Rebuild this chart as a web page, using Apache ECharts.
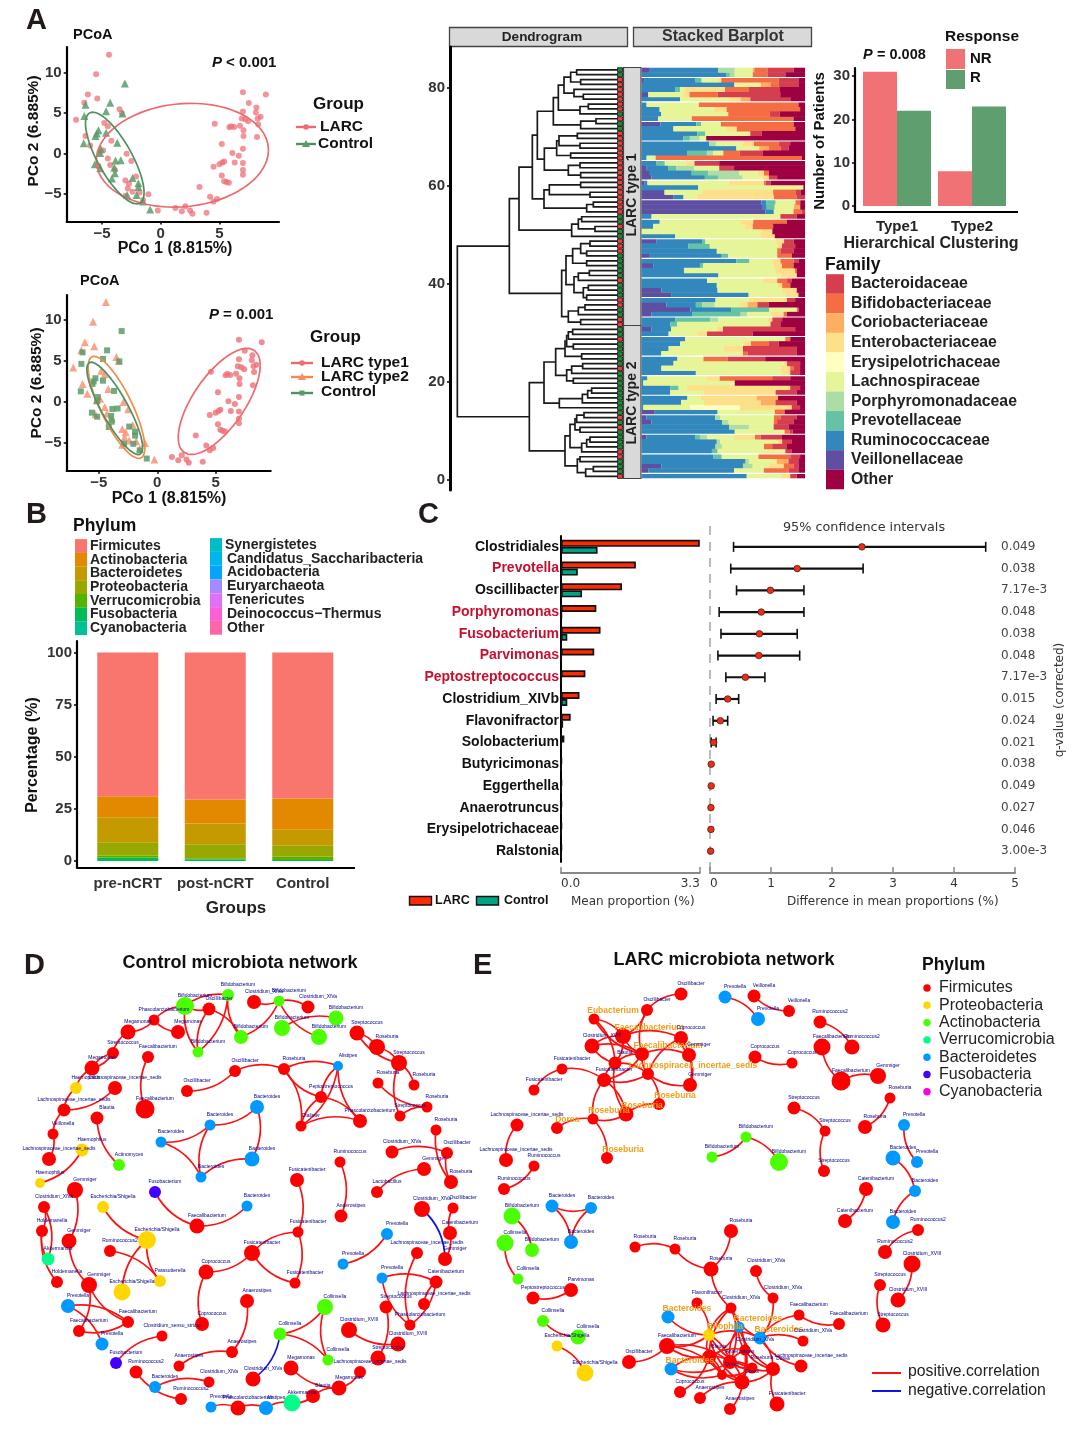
<!DOCTYPE html>
<html><head><meta charset="utf-8">
<style>html,body{margin:0;padding:0;background:#fff}#c{width:1080px;height:1429px}</style>
<script src="https://cdn.jsdelivr.net/npm/echarts@6/dist/echarts.min.js"></script>
</head><body><div id="c"></div>
<script>
// ---------- Panel A: PCoA ----------
const larcPoints=[[-4.4,12.2],[-5.5,9.8],[-6.2,7.3],[-5.4,6.8],[-6.5,6.3],[-7.2,4.2],[-3.5,5.5],[-3.3,5],[-4.8,3.8],[-4.5,3.4],[-6.4,2.2],[-4.2,1.6],[-6,1],[-5.2,0.2],[-2.9,0],[-4.9,0.4],[-4.5,-0.6],[-2.5,-0.9],[-4.3,-1.4],[-5.3,-1.5],[-3.9,-2],[-2.1,-2.8],[-3,-3.3],[-2.7,-3.7],[-2.8,-4.3],[-2.4,-4.7],[-3,-5.2],[-1.8,-4.8],[-1.05,-5],[-1.5,-5.7],[-0.25,-7],[1.25,-6.7],[2.1,-6.5],[1.8,-7.1],[2.5,-7],[2.7,-7.4],[3.9,-7.3],[3.3,-4.1],[4.2,-5.3],[4.5,-5.9],[4.8,-5.6],[4.5,-1.6],[5,-1.3],[5.25,-1.1],[5.4,-0.95],[5.2,-2.7],[5.4,-3.4],[5.6,-3.5],[5.8,-3.6],[5.2,1.2],[6.1,0.1],[6.65,-0.25],[6.3,-1.1],[7,-1.15],[7,-2],[7,-2.6],[7,0.6],[4.6,3.7],[5.85,3.25],[6,3.4],[6.25,3.3],[6.75,3.45],[7.05,2.9],[7.05,2.2],[8.2,2.05],[6.9,4.35],[7,5.2],[7,7.6],[7.5,6.25],[8.15,5.7],[8.1,5.1],[8.95,7.3],[8.5,4.55],[8.25,4.35],[7.45,4],[8.3,3.65],[7.2,4.25]];
const controlPoints=[[-3.05,8.65],[-4.3,6.3],[-6.4,6.05],[-4.65,5.25],[-3.25,4.95],[-6.5,4.65],[-5.3,2.9],[-5.45,2.5],[-5.55,2.2],[-4.65,2.6],[-6.55,1.3],[-3.7,1.35],[-5.1,0.6],[-5.15,0.1],[-3.4,-0.8],[-3.85,-0.85],[-5.6,-1.3],[-3.95,-1.7],[-3.9,-2.4],[-4.15,-3.05],[-2.4,-3],[-1.9,-3.65],[-2.85,-5.1],[-2.05,-5.1],[-1.5,-5.9],[-0.9,-6.9],[-5.15,-1.8],[-1.9,-4.1]];
// Ellipse outlines (the closing point repeats the first)
const a1LarcEllipse=[[-5.6,-1.4],[-5.17,0.86],[-4.03,2.92],[-2.33,4.57],[-0.06,5.51],[2.64,5.88],[5.06,5.6],[7.05,4.57],[8.61,2.72],[9.32,0.45],[8.75,-2.02],[7.33,-3.66],[5.06,-5.51],[2.5,-6.63],[-0.34,-6.87],[-2.76,-5.93],[-4.6,-4.28],[-5.6,-1.4]];
const a1ControlEllipse=[[-6.25,3.54],[-5.88,5.06],[-5.17,4.77],[-4.32,3.74],[-3.04,1.28],[-2.05,-1.4],[-1.42,-4.07],[-1.42,-5.72],[-1.99,-6.34],[-3.04,-5.51],[-4.46,-3.25],[-5.6,-0.78],[-6.16,1.69],[-6.25,3.54]];
const a2Type1Ellipse=[[1.89,-4.23],[2.37,-1.18],[3.66,2.28],[5.37,5.12],[7.09,6.26],[8.51,6.34],[9.03,4.31],[8.23,1.06],[6.8,-2.2],[5.09,-4.84],[3.37,-6.26],[2.29,-5.85],[1.89,-4.23]];
const a2Type2Ellipse=[[-6,4.92],[-5.34,5.73],[-4.06,4.1],[-2.63,0.85],[-1.49,-2.6],[-1.2,-5.45],[-1.63,-6.75],[-2.63,-5.85],[-4.34,-2.6],[-5.63,1.06],[-6,4.92]];
const a2ControlEllipse=[[-6.06,4.1],[-5.49,5.12],[-4.2,3.29],[-2.77,0.04],[-1.71,-3],[-1.4,-5.45],[-1.77,-6.34],[-2.77,-5.24],[-4.49,-1.79],[-5.77,1.46],[-6.06,4.1]];
const pcoXTicks=[-5,0,5], pcoYTicks=[-5,0,5,10];

// ---------- Panel A: stacked barplot, one row per patient, top to bottom ----------
const familyNames=['Bacteroidaceae','Bifidobacteriaceae','Coriobacteriaceae','Enterobacteriaceae','Erysipelotrichaceae','Lachnospiraceae','Porphyromonadaceae','Prevotellaceae','Ruminococcaceae','Veillonellaceae','Other'];
const familyColors=['#D53E4F','#F46D43','#FDAE61','#FEE08B','#FFFFBF','#E6F598','#ABDDA4','#66C2A5','#3288BD','#5E4FA2','#9E0142'];
const stackOrder=['Veillonellaceae','Ruminococcaceae','Prevotellaceae','Porphyromonadaceae','Lachnospiraceae','Erysipelotrichaceae','Enterobacteriaceae','Coriobacteriaceae','Bifidobacteriaceae','Bacteroidaceae','Other'];
const patientRows=[
[5,42,0,10,11,0,0,1,8,16,7],[0,52,2,3,11,0,0,0,9,11,12],[1.5,31,4,0,10,0,2,0,35,12,4],[0,56.5,0,0,16,0,0,6,5,12,4],
[0,20,3,0,3,0,24,0,14,19,15],[4,0,0,0,21,0,4,0,17,38,15],[0,23.5,0,0,30,0,7,6,0,24.5,9],[0,3,0,0,32,0,0,0,61,0,4],
[0,11,0,0,33,0,8,0,45,0,3],[0,12,0,0,41,0,0,0,25.5,6,15.5],[0,10,0,0,20.5,0,0,0,62,0,7],[11.5,22,3,0,12,0,0,0,44.5,0,7],
[0,19.5,0,0,33,0,6,0,36,0,6],[0,34,5,0,27.5,0,0,0,0,7,26.5],[0,25.5,4,6,4,0,0,0,0,0,60.5],[0,41,0,4,16,0,7,0,15,7,9],
[0,58,0,0,14,0,0,6,7,5,10],[0,27.5,12,4,6,0,0,0,10,14,25.5],[0,3,0,0,5.5,0,0,0,89,0,2],[0,9,5,0,13,0,5,0,0,15,52],
[3,13,5,11,15,0,0,0,0,9,43],[5,25.5,10,19,11,0,4,0,3,0,22],[6,32.5,8,15,12,0,4,0,0,5,17],[1.5,2,0,0,49.5,0,21.5,0,1,3,21],
[0,34.5,0,0,64,0,0,0,0,0,1],[14,0,0,0,23.5,0,43,0,14,3,2.5],[19.5,6,0,0,8,0,47,0,14,5,0],[75.5,3,6,0,12.5,0,0,0,3,0,3],
[75.5,3,5,0,12,0,0,4,0,0,3],[75.5,5,0,0,12,0,0,0,5,2,0],[0,6,0,0,78.5,0,0,0,0,10,5],[0,11,0,0,49,0,8,0,20.5,0,11],
[0,7,0,0,56,0,5,0,12.5,0,19.5],[0,0,0,0,73,0,7,0,0,0,20],[0,20.5,0,0,52,0,9,0,0,0,18.5],[9,28.5,2,0,44,0,5,0,0,6,7],
[0,28.5,13,0,41,0,3,0,0,8,6],[0,46,0,0,37,0,0,0,2,8,7],[5,44,4,0,30,0,0,0,9,0,8],[0,58,8,0,14,0,5,0,8,3,4],
[7,28.5,2,0,43,0,5,0,7,0,7],[0,25.5,0,0,55,0,12,0,1,0,5],[0,47,0,0,38,0,10,0,0,0,5],[0,40,0,0,34,0,9,0,6,3,8],
[0,46,0,0,37,0,3,0,5,0,9],[12,34,0,0,39,0,9,0,0,0,5],[18,47.5,0,0,22.5,0,8,0,0,0,4],[0,45,0,0,20,0,23.5,0,0,5,6],
[15,18,4,7.5,15,0,5,6,0,7,22],[30,25,23.5,0,17,0,0,0,1,0,4],[6,24.5,29.5,4,14,0,8,0,2,0,11],[0,20.5,21.5,5,30,0,3,0,0,6,14],
[0,17.5,4,0,57,0,0,0,0,6,15],[6,12,0,0,27.5,0,4,0,0,44,6],[0,16.5,0,0,17.5,0,6,0,0,28,32],[0,26.5,0,0,61,0,0,0,3,0,9],
[0,23.5,0,0,38,0,5,0,11,6,16],[0,16.5,0,0,33.5,0,12,0,0,33,5],[0,12,0,0,50,0,0,0,3,30,5],[0,22,0,0,16,0,0,0,15,23,24.5],
[0,19.5,0,0,67.5,0,2,0,0,8,3],[0,12,0,0,72.5,0,6,0,2,4,3],[0,33,0,0,52.5,0,5,0,0,6,3],[0,3.5,0,0,36,0,8,0,32,11,9],
[0,1,0,0,56,0,0,0,0,0,43],[0,17.5,5,0,5,0,63,0,0,6,3],[0,17.5,0,0,20.5,0,44,0,0,13,5],[0,28,0,0,8,0,34.5,13,0,0,16.5],
[0,24,0,0,14,0,34.5,9,0,13,5],[0,1,0,0,28.5,30,31.5,0,0,5,3],[8,38.5,0,0,35,0,0,0,6,0,12.5],[3,42,0,3,33,0,0,0,4,10,5],
[6,43,0,4,27.5,0,0,0,2,10,7],[0,53,0,12,15,0,0,0,0,9,10],[0,57,0,0,30.5,0,0,0,3,2,7.5],[3,29.5,3,4.5,16,0,13,0,3.5,13,14],
[0,46,0,2,35,0,3,0,0,6,8],[0,45,0,4,25.5,0,0,0,5,9,11],[0,43,3.5,0,41.5,0,0,0,0,4,8],[0,44,5,0,22.5,0,0,0,19.5,6,3],
[0,63,0,2,16,0,1,7,0,6,4],[12,50,0,6,10,0,9,0,6,3,4],[4,52,0,0,18,0,0,0,15,6,4],[0,64,0,0,20.5,0,6,0,0,4,5]];
const whiteSeparatorRows=[1,6,10,14,18,22,26,30,34,38,42,46,50,54,58,62,66,70,74,78,82];

// ---------- Panel A: dendrogram. Node = [height, upper child, lower child]; L = leaf ----------
const L=0;
const heightOf=(zoomX)=>592-zoomX;
const dendrogramTree=[112,
 [268,
  [297,
   [337,
    [352,
     [400,[415,[432,[452,[470,L,L],[482,L,L]],[462,L,[490,L,L]]],[480,[505,L,L],L]],[482,[528,L,L],L]],
     [373,[410,[417,[472,L,L],[480,L,L]],[452,L,L]],[445,[480,L,L],[482,L,L]]]],
    [372,[388,[482,L,L],[510,L,L]],[500,[520,L,L],L]]],
   [455,[475,[485,L,L],[525,L,L]],L]],
  [425,
   [438,[458,[482,[510,L,L],[500,L,L]],[500,L,L]],[462,[475,[508,L,L],L],[490,[505,L,L],[500,L,L]]]],
   [445,[475,[495,L,L],L],[482,L,L]]]],
 [328,
  [372,
   [407,[435,[440,[445,[458,L,L],L],[460,L,L]],[485,L,L]],[440,[455,[488,L,L],L],[460,L,L]]],
   [418,[487,[503,[515,L,L],L],L],L]],
  [435,
   [450,[465,[470,[492,L,L],L],[480,L,L]],[485,[500,[510,L,L],L],L]],
   [472,[480,L,L],[497,[520,L,L],L]]]]];
const leafGroups='GGRRRRRRRGRGG'+'RRRRRRRRRRRRRRRRR'+'GGRGGRRRGGGGGRGGGRRGGRR'+'GGRGGGGGRGGGGGGGGGRGRGGGGRRGGGR';

// ---------- Panel A: response bars ----------
const responseCategories=['Type1','Type2'];
const responseNR=[31,8], responseR=[22,23];

// ---------- Panel B ----------
const phylumLegendLeft=['Firmicutes','Actinobacteria','Bacteroidetes','Proteobacteria','Verrucomicrobia','Fusobacteria','Cyanobacteria'];
const phylumLegendRight=['Synergistetes','Candidatus_Saccharibacteria','Acidobacteria','Euryarchaeota','Tenericutes','Deinococcus\u2212Thermus','Other'];
const phylumColorsLeft=['#F8766D','#E38900','#C49A00','#99A800','#53B400','#00BC56','#00C094'];
const phylumColorsRight=['#00BFC4','#00B6EB','#06A4FF','#A58AFF','#DF70F8','#FB61D7','#FF66A8'];
const groupNames=['pre-nCRT','post-nCRT','Control'];
const firmicutes=[69,70.5,70], actinobacteria=[10,11.5,15], bacteroidetes=[12,10,7.7], proteobacteria=[6.5,6.7,5.3], verrucomicrobia=[1,0.5,1.5], fusobacteria=[1.5,0.8,0.5];

// ---------- Panel C ----------
const genera=['Clostridiales','Prevotella','Oscillibacter','Porphyromonas','Fusobacterium','Parvimonas','Peptostreptococcus','Clostridium_XIVb','Flavonifractor','Solobacterium','Butyricimonas','Eggerthella','Anaerotruncus','Erysipelotrichaceae','Ralstonia'];
const redGenera=['Prevotella','Porphyromonas','Fusobacterium','Parvimonas','Peptostreptococcus'];
const larcMean=[3.3,1.78,1.45,0.84,0.94,0.79,0.58,0.44,0.23,0.08,0.02,0.02,0.02,0.02,0.02];
const controlMean=[0.87,0.4,0.5,0.02,0.15,0.01,0.01,0.15,0.05,0.01,0,0,0,0,0];
const diffLow=[0.386,0.34,0.435,0.15,0.18,0.13,0.26,0.1,0.05,0.02,0,0,0,0,0];
const diffMean=[2.49,1.43,0.99,0.84,0.81,0.8,0.58,0.29,0.17,0.06,0.02,0.02,0.015,0.015,0.01];
const diffHigh=[4.52,2.51,1.54,1.54,1.43,1.47,0.9,0.47,0.29,0.1,0.04,0.04,0.03,0.03,0.02];
const qValues=['0.049','0.038','7.17e-3','0.048','0.038','0.048','7.17e-3','0.015','0.024','0.021','0.038','0.049','0.027','0.046','3.00e-3'];

// ---------- Panels D and E: networks. Node = [genus, phylum, layout x, layout y, weight, highlighted] ----------
const phylumDot={F:'#FF0000',P:'#FFD700',A:'#4CFF00',V:'#00FF88',B:'#0099FF',U:'#4400FF',C:'#FF00DD'};
const LI='Lachnospiraceae_incertae_sedis', CX='Clostridium_XlVa', ES='Escherichia/Shigella', FP='Faecalibacterium', BI='Bifidobacterium', BA='Bacteroides', PH='Phascolarctobacterium', FC='Fusicatenibacter', CV='Clostridium_XVIII', RU='Ruminococcus2';
const controlNodes=[[BI,'A',185,1006,18],[BI,'A',228,995,12],['Oscillibacter','F',209,1009,13],[PH,'F',154,1020,11],['Megamonas','F',128,1032,15],['Megamonas','F',178,1032,14],[BI,'A',198,1052,11],[BI,'A',241,1037,14],['Streptococcus','F',113,1053,12],[FP,'F',148,1057,12],
['Megamonas','F',92,1068,15],['Oscillibacter','F',235,1071,12],['Haemophilus','P',76,1088,12],[LI,'F',115,1088,14],['Oscillibacter','F',187,1091,12],[LI,'F',64,1110,13],[FP,'F',145,1109,19],['Blautia','F',97,1118,13],['Veillonella','F',53,1134,11],[BA,'B',210,1125,11],
[BA,'B',161,1142,11],['Haemophilus','P',82,1150,13],[LI,'F',49,1159,14],['Actinomyces','A',119,1165,12],[BA,'B',201,1177,11],['Haemophilus','P',40,1183,10],['Gemmiger','F',75,1190,16],['Fusobacterium','U',155,1192,12],[CX,'F',254,1002,14],[BI,'A',279,1001,11],
[CX,'F',308,1007,13],[BI,'A',336,1018,15],[BI,'A',282,1028,16],[BI,'A',319,1037,16],['Streptococcus','F',357,1033,15],['Roseburia','F',377,1047,16],['Streptococcus','F',399,1063,16],['Alistipes','B',338,1066,10],['Roseburia','F',284,1069,12],['Roseburia','F',378,1083,11],
['Roseburia','F',414,1085,11],['Peptostreptococcus','F',321,1097,12],[BA,'B',257,1107,14],['Roseburia','F',427,1107,11],['Streptococcus','F',400,1116,11],[PH,'F',360,1121,14],['Dialister','F',301,1126,11],['Roseburia','F',436,1130,11],[CX,'F',392,1152,13],['Oscillibacter','F',447,1153,12],
[BA,'B',252,1159,15],['Ruminococcus','F',340,1162,11],['Gemmiger','F',424,1169,14],[FC,'F',297,1180,14],['Roseburia','F',451,1182,14],['Lactobacillus','F',377,1192,12],[CX,'F',44,1207,12],[ES,'P',103,1207,12],[FP,'F',197,1226,15],['Holdemanella','F',42,1231,12],
['Gemmiger','F',69,1241,15],[ES,'P',147,1240,18],[RU,'F',110,1251,12],['Akkermansia','V',48,1259,13],['Coprococcus','F',206,1272,15],['Holdemanella','F',57,1282,12],['Parasutterella','P',160,1281,12],['Gemmiger','F',89,1285,16],[ES,'P',122,1292,17],['Prevotella','B',68,1306,14],
[FP,'F',128,1322,12],[FP,'F',79,1331,12],['Coprococcus','F',202,1324,14],['Clostridium_sensu_stricto','F',162,1336,11],['Prevotella','B',102,1344,13],['Anaerostipes','F',232,1352,12],['Fusobacterium','U',116,1363,12],['Anaerostipes','F',179,1366,11],[RU,'F',136,1372,13],[CX,'F',209,1382,11],
[BA,'B',155,1387,12],[RU,'F',181,1399,12],['Prevotella','B',211,1407,11],[BA,'B',247,1206,11],['Anaerostipes','F',341,1216,13],[CX,'F',422,1209,16],['Oscillibacter','F',453,1208,11],['Catenibacterium','F',450,1233,14],['Prevotella','B',387,1234,12],[FC,'F',298,1232,11],
[FC,'F',252,1253,16],[LI,'F',417,1253,12],['Gemmiger','F',445,1259,14],['Prevotella','B',343,1264,11],['Prevotella','B',382,1278,11],['Catenibacterium','F',436,1282,13],[FC,'F',295,1283,11],[LI,'F',424,1304,12],['Collinsella','A',325,1307,16],['Anaerostipes','F',247,1301,14],
['Streptococcus','F',386,1307,13],[PH,'F',410,1325,11],[CV,'F',349,1330,16],['Collinsella','A',280,1334,13],[CV,'F',398,1344,15],['Streptococcus','F',378,1358,15],['Collinsella','A',328,1360,11],['Megamonas','F',291,1368,15],[LI,'F',360,1372,12],[CX,'F',253,1379,15],
['Megamonas','F',339,1388,15],['Blautia','F',313,1396,14],['Akkermansia','V',292,1403,17],['Alistipes','B',266,1408,14],[PH,'F',238,1408,15]];
const controlPositive=[[0,2],[0,1],[0,6],[1,6],[1,7],[2,7],[2,6],[3,0],[3,5],[3,4],[4,8],[8,10],[10,12],[10,8],[12,15],[13,15],[15,18],[18,22],[9,16],[11,14],[17,23],[19,20],[19,24],[20,24],[19,42],[24,50],[50,42],[21,25],[28,29],[29,30],[29,33],[32,31],[7,29],[34,35],[34,36],[35,36],[36,44],[36,40],[39,43],[44,43],[38,11],[38,37],[38,41],[38,46],[37,41],[37,46],[37,45],[41,45],[41,46],[46,45],[47,54],[48,49],[49,54],[51,84],[52,55],[53,89],[89,90],[89,96],[90,96],[90,64],[64,72],[58,27],[58,83],[56,59],[59,63],[56,63],[59,65],[26,60],[60,67],[61,57],[61,68],[62,66],[61,66],[67,71],[67,70],[69,70],[71,70],[69,74],[73,76],[77,75],[78,81],[80,79],[75,99],[82,114],[113,114],[113,112],[112,111],[111,110],[110,108],[110,107],[103,98],[103,106],[98,106],[100,105],[102,104],[87,92],[91,101],[94,95],[94,101],[95,101],[95,97],[88,93],[86,87]];
const controlNegative=[[103,109],[85,92]];
const larcNodes=[['Oscillibacter','F',681,994,13],['Oscillibacter','F',647,1010,12],['Eubacterium','F',594,1019,11,1],[FP,'F',623,1036,16,1],[CV,'F',592,1046,15],['Coprococcus','F',681,1038,14],[FP,'F',642,1054,14,1],['Gemmiger','F',689,1055,14],['Blautia','F',615,1063,13],[FC,'F',562,1069,11],
['Lachnospiracea_incertae_sedis','F',648,1074,12,1],[FC,'F',604,1080,14],['Gemmiger','F',690,1085,14],[FC,'F',534,1090,11],['Roseburia','F',659,1104,12,1],['Roseburia','F',626,1114,15,1],['Roseburia','F',593,1119,11,1],[LI,'F',517,1125,13],['Dorea','F',557,1128,12,1],[LI,'F',506,1160,14],
['Roseburia','F',607,1158,12,1],['Ruminococcus','F',534,1166,11],['Ruminococcus','F',504,1189,12],[BI,'A',746,1137,11],[BI,'A',712,1157,11],['Prevotella','B',725,997,13],['Veillonella','F',754,996,13],['Prevotella','B',758,1019,14],['Veillonella','F',789,1011,12],[RU,'F',820,1022,13],
[FP,'F',822,1047,17],[RU,'F',852,1047,15],['Coprococcus','F',755,1057,13],['Coprococcus','F',792,1063,11],[FP,'F',841,1081,19],['Gemmiger','F',878,1076,16],['Streptococcus','F',794,1108,13],['Roseburia','F',890,1098,11],['Roseburia','F',865,1127,14],['Prevotella','B',904,1125,12],
['Streptococcus','F',825,1131,11],[BA,'B',893,1158,15],['Prevotella','B',917,1162,12],[BI,'A',779,1162,18],['Streptococcus','F',824,1171,12],['Catenibacterium','F',866,1189,14],[BA,'B',915,1191,12],['Catenibacterium','F',845,1221,14],[BA,'B',893,1222,14],[RU,'F',918,1230,12],
[RU,'F',885,1252,14],[CV,'F',912,1264,17],['Streptococcus','F',880,1285,12],[CV,'F',898,1300,15],['Streptococcus','F',883,1325,15],[BA,'B',552,1206,13],[BA,'B',591,1208,12],[BI,'A',512,1216,17],[BA,'B',571,1242,14],['Collinsella','A',505,1243,17],
[BI,'A',532,1250,14],['Roseburia','F',635,1247,11],['Roseburia','F',675,1249,11],['Roseburia','F',731,1231,14],['Roseburia','F',711,1269,15],['Collinsella','A',518,1279,11],['Parvimonas','F',571,1290,14],['Peptostreptococcus','F',533,1298,13],['Flavonifractor','F',697,1303,11],[CX,'F',731,1308,11],
[BA,'B',668,1317,13,1],['Collinsella','A',543,1321,12],[BA,'B',739,1327,11,1],['Collinsella','A',578,1337,15],['Bilophila','P',709,1335,12,1],[ES,'P',557,1346,11],[FP,'F',667,1346,16],['Oscillibacter','F',629,1362,14],[ES,'P',585,1373,17],[BA,'B',671,1369,13,1],
['Blautia','F',709,1357,14],['Anaerostipes','F',730,1362,14],['Dorea','F',742,1382,15],['Coprococcus','F',680,1392,12],['Anaerostipes','F',700,1398,12],['Anaerostipes','F',730,1409,12],[CX,'F',756,1271,12],[CX,'F',773,1298,11],[FP,'F',799,1315,11],[FP,'F',839,1324,12],
[BA,'B',760,1338,13,1],[CX,'F',803,1341,11],[LI,'F',801,1366,13],['Dorea','F',773,1369,14],[FC,'F',777,1404,15],[CX,'F',745,1350,11],['Dorea','F',722,1375,10],['Roseburia','F',752,1368,11]];
const larcPositive=[[0,1],[1,3],[1,6],[2,3],[2,6],[2,8],[3,4],[3,8],[3,6],[3,5],[4,8],[4,6],[5,10],[5,12],[5,7],[6,7],[6,8],[6,11],[6,10],[7,12],[8,11],[8,10],[8,15],[9,11],[9,13],[10,11],[10,12],[10,14],[11,16],[11,15],[14,15],[15,16],[16,18],[16,20],[17,19],[21,22],[24,23],[25,27],[26,28],[29,31],[30,34],[34,35],[32,33],[36,40],[40,44],[37,38],[39,42],[41,46],[46,48],[45,47],[49,50],[51,53],[52,54],[23,43],[55,56],[55,58],[56,58],[57,60],[59,65],[66,67],[71,73],[75,78],[77,76],[61,62],[62,64],[63,64],[64,69],[68,74],[70,74],[74,76],[74,80],[74,81],[74,82],[74,90],[76,80],[76,81],[69,74],[69,81],[69,80],[69,82],[69,90],[72,80],[72,81],[72,82],[72,93],[79,80],[79,81],[80,81],[80,82],[81,82],[82,93],[80,83],[82,84],[82,85],[90,87],[90,88],[88,89],[90,91],[90,92],[90,93],[93,94],[87,86],[95,80],[95,82],[95,93],[95,72],[96,80],[96,82],[96,76],[97,74],[97,93],[97,81],[95,96],[97,96],[79,96],[81,97]];
const phylumKey=[['Firmicutes','F'],['Proteobacteria','P'],['Actinobacteria','A'],['Verrucomicrobia','V'],['Bacteroidetes','B'],['Fusobacteria','U'],['Cyanobacteria','C']];

// ================= build =================
const FF="'Liberation Sans',Arial,sans-serif", DJ="'DejaVu Sans',sans-serif";
const minus=v=>String(v).replace('-','\u2212');
const txt=(text,x,y,o={})=>({type:'text',x,y,rotation:o.rot||0,silent:true,style:{text,fontFamily:o.ff||FF,fontSize:o.s||15,fontWeight:o.w||'bold',fontStyle:o.i?'italic':'normal',fill:o.c||'#111',align:o.a||'left',verticalAlign:'middle'}});
const rect=(x,y,w,h,fill,o={})=>({type:'rect',silent:true,shape:{x,y,width:w,height:h},style:{fill,stroke:o.stroke||null,lineWidth:o.lw||0}});
const seg=(x1,y1,x2,y2,c,w,dash)=>({type:'line',silent:true,shape:{x1,y1,x2,y2},style:{stroke:c,lineWidth:w,lineDash:dash||null}});
const dot=(x,y,r,c)=>({type:'circle',silent:true,shape:{cx:x,cy:y,r},style:{fill:c}});
// Like stat_ellipse: an ellipse from the mean and covariance of the outline points.
const fitEllipse=raw=>{const p=raw.slice(0,-1),n=p.length,mx=p.reduce((a,q)=>a+q[0],0)/n,my=p.reduce((a,q)=>a+q[1],0)/n;
  let sxx=0,sxy=0,syy=0;p.forEach(q=>{sxx+=(q[0]-mx)**2;sxy+=(q[0]-mx)*(q[1]-my);syy+=(q[1]-my)**2;});sxx/=n;sxy/=n;syy/=n;
  const a=Math.sqrt(2*sxx),b=2*sxy/a,c=Math.sqrt(Math.max(2*syy-b*b,0));const out=[];
  for(let i=0;i<=72;i++){const t=i/72*2*Math.PI,u=Math.cos(t),v=Math.sin(t);out.push([mx+a*u,my+b*u+c*v]);}return out;};

const valAxis=(i,min,max,ticks,extra={})=>Object.assign({type:'value',gridIndex:i,min,max,
  axisLine:{show:true,onZero:false,lineStyle:{color:'#000',width:2.2}},
  axisTick:{show:true,customValues:ticks,length:3,lineStyle:{color:'#000',width:1.5}},
  axisLabel:{show:true,customValues:ticks,fontFamily:FF,fontWeight:'bold',fontSize:15,color:'#333',margin:5,formatter:minus},
  splitLine:{show:false}},extra);

const grids=[],xAxes=[],yAxes=[],series=[];
grids.push({left:66.7,top:47,width:212.3,height:174.6});
xAxes.push(valAxis(0,-8,10.07,pcoXTicks));
yAxes.push(valAxis(0,-8.38,13.17,pcoYTicks));
const sc=(i,data,sym,size,color,op)=>({type:'scatter',xAxisIndex:i,yAxisIndex:i,data,symbol:sym,symbolSize:size,itemStyle:{color,opacity:op},silent:true});
const el=(i,data,color)=>({type:'line',xAxisIndex:i,yAxisIndex:i,data:fitEllipse(data),symbol:'none',lineStyle:{color,width:1.7},silent:true});
series.push(sc(0,larcPoints,'circle',6,'#EF6F78',.75),sc(0,controlPoints,'triangle',8,'#5B9C6A',.85),el(0,a1LarcEllipse,'#EC6A6E'),el(0,a1ControlEllipse,'#4E9160'));
const larcType1=larcPoints.filter(p=>p[0]>0.5), larcType2=larcPoints.filter(p=>p[0]<=0.5);
grids.push({left:66.7,top:295,width:204,height:175.7});
xAxes.push(valAxis(1,-7.76,9.72,pcoXTicks));
yAxes.push(valAxis(1,-8.38,13.05,pcoYTicks));
series.push(sc(1,larcType1,'circle',6,'#EF6F78',.8),sc(1,larcType2,'triangle',8,'#F98C6E',.8),sc(1,controlPoints,'rect',6,'#5B9C6A',.85),el(1,a2Type1Ellipse,'#EC6A6E'),el(1,a2Type2Ellipse,'#F58A4A'),el(1,a2ControlEllipse,'#4E9160'));
grids.push({left:450,top:47,width:172,height:443});
xAxes.push({type:'value',gridIndex:2,show:false,inverse:true,min:-14,max:502});
yAxes.push(valAxis(2,-2.04,88.4,[0,20,40,60,80],{position:'left',axisLine:{show:true,onZero:false,lineStyle:{color:'#000',width:3}}}));
let leafCounter=0; const dendroSegs=[]; const leafPts=[];
function walk(node){
  if(!Array.isArray(node)){leafCounter++;const y=84.75-leafCounter;leafPts.push({value:[-8,y],itemStyle:{color:leafGroups[leafCounter-1]==='R'?'#F23C3C':'#1F8A36'}});return {h:0,y};}
  const a=walk(node[1]),b=walk(node[2]),h=heightOf(node[0]);
  dendroSegs.push([a.h,a.y,h,b.y,b.h]);
  return {h,y:(a.y+b.y)/2};
}
walk(dendrogramTree);
series.push({type:'custom',xAxisIndex:2,yAxisIndex:2,data:dendroSegs,encode:{x:[0,2,4],y:[1,3]},silent:true,clip:false,
 renderItem:(p,api)=>{const v=i=>api.value(i);return {type:'polyline',shape:{points:[api.coord([v(0),v(1)]),api.coord([v(2),v(1)]),api.coord([v(2),v(3)]),api.coord([v(4),v(3)])]},style:{stroke:'#1a1a1a',fill:null,lineWidth:1.7}};}});
series.push({type:'scatter',xAxisIndex:2,yAxisIndex:2,z:6,data:leafPts,symbol:'rect',symbolSize:[5,4.1],silent:true,itemStyle:{borderColor:'#111',borderWidth:.8,opacity:1}});
grids.push({left:641.7,top:67.7,width:163.3,height:410.6});
xAxes.push({type:'value',gridIndex:3,show:false,min:0,max:100});
yAxes.push({type:'category',gridIndex:3,show:false,inverse:true,data:patientRows.map((r,i)=>'P'+(i+1))});
const rowTotals=patientRows.map(r=>r.reduce((a,b)=>a+b,0));
stackOrder.forEach((name,j)=>series.push({type:'bar',name,xAxisIndex:3,yAxisIndex:3,stack:'f',barWidth:5.4,silent:true,
  itemStyle:{color:familyColors[familyNames.indexOf(name)]},data:patientRows.map((r,i)=>r[j]/rowTotals[i]*100)}));
series.push({type:'custom',xAxisIndex:3,yAxisIndex:3,silent:true,z:5,data:whiteSeparatorRows.map(r=>[0,r]),encode:{x:0,y:1},
 renderItem:(p,api)=>{const c=api.coord([0,api.value(1)]),e=api.coord([100,api.value(1)]),h=api.size([0,1])[1];return {type:'line',shape:{x1:c[0],y1:c[1]+h/2,x2:e[0],y2:c[1]+h/2},style:{stroke:'#fff',lineWidth:1.1}};}});
grids.push({left:859.5,top:68,width:150,height:144});
xAxes.push({type:'category',gridIndex:4,data:responseCategories,axisLine:{show:false},axisTick:{show:false},axisLabel:{interval:0,fontFamily:FF,fontWeight:'bold',fontSize:15,color:'#222',margin:7}});
yAxes.push(valAxis(4,-1.39,31.87,[0,10,20,30],{offset:4.5}));
series.push({type:'bar',xAxisIndex:4,yAxisIndex:4,data:responseNR,barWidth:34,barGap:0,itemStyle:{color:'#F07274'},silent:true},{type:'bar',xAxisIndex:4,yAxisIndex:4,data:responseR,barWidth:34,itemStyle:{color:'#5F9E6E'},silent:true});
grids.push({left:84,top:641,width:262.5,height:227});
xAxes.push({type:'category',gridIndex:5,data:groupNames,axisLine:{show:false},axisTick:{show:false},axisLabel:{interval:0,fontFamily:FF,fontWeight:'bold',fontSize:15,color:'#333',margin:8}});
yAxes.push(valAxis(5,-3.36,105.5,[0,25,50,75,100],{offset:7}));
[[fusobacteria,'#00BC56'],[verrucomicrobia,'#53B400'],[proteobacteria,'#99A800'],[bacteroidetes,'#C49A00'],[actinobacteria,'#E38900'],[firmicutes,'#F8766D']].forEach(([d,c])=>series.push({type:'bar',xAxisIndex:5,yAxisIndex:5,stack:'p',data:d,barWidth:61,itemStyle:{color:c},silent:true}));
const grayAxis=(i,min,max,ticks,fmt,alignMax)=>({type:'value',gridIndex:i,min,max,offset:11,position:'bottom',
  axisLine:{show:true,onZero:false,lineStyle:{color:'#888',width:2}},axisTick:{show:true,inside:true,customValues:ticks,length:6,lineStyle:{color:'#888',width:1.5}},
  axisLabel:{show:true,customValues:ticks,alignMinLabel:'left',alignMaxLabel:alignMax,fontFamily:DJ,fontSize:12,color:'#333',margin:5,formatter:fmt},splitLine:{show:false}});
grids.push({left:561,top:536,width:138.8,height:326});
xAxes.push(grayAxis(6,0,3.3,[0,3.3],v=>v.toFixed(1),'right'));
yAxes.push({type:'category',gridIndex:6,inverse:true,data:genera,axisLine:{show:true,lineStyle:{color:'#000',width:2}},axisTick:{show:false},
  axisLabel:{interval:0,fontFamily:FF,fontWeight:'bold',fontSize:14,margin:2,color:v=>redGenera.includes(v)?'#C8102E':'#111'}});
series.push({type:'bar',xAxisIndex:6,yAxisIndex:6,data:larcMean,barWidth:7,barGap:'0%',silent:true,itemStyle:{color:'#FF2A00',borderColor:'#111',borderWidth:1.7}},
 {type:'bar',xAxisIndex:6,yAxisIndex:6,data:controlMean,barWidth:7,silent:true,itemStyle:{color:'#00A383',borderColor:'#111',borderWidth:1.7}});
grids.push({left:710,top:536,width:305,height:326});
xAxes.push(grayAxis(7,0,5,[0,1,2,3,4,5],v=>v,'center'));
yAxes.push({type:'category',gridIndex:7,inverse:true,position:'right',offset:-14,data:qValues,axisLine:{show:false},axisTick:{show:false},
  axisLabel:{interval:0,fontFamily:DJ,fontSize:12,color:'#444',margin:0,align:'left'}});
series.push({type:'custom',xAxisIndex:7,yAxisIndex:7,silent:true,clip:false,data:genera.map((g,i)=>[diffLow[i],diffMean[i],diffHigh[i],i]),encode:{x:[0,1,2],y:3},
 renderItem:(p,api)=>{const y=api.coord([0,api.value(3)])[1],a=api.coord([api.value(0),0])[0],m=api.coord([api.value(1),0])[0],b=api.coord([api.value(2),0])[0];
  const s={stroke:'#111',lineWidth:2.2},cap={stroke:'#111',lineWidth:1.6};
  const kids=[{type:'line',shape:{x1:a,y1:y,x2:b,y2:y},style:s}];
  if(api.value(2)-api.value(0)>0.05){kids.push({type:'line',shape:{x1:a,y1:y-5,x2:a,y2:y+5},style:cap},{type:'line',shape:{x1:b,y1:y-5,x2:b,y2:y+5},style:cap});}
  kids.push({type:'circle',shape:{cx:m,cy:y,r:3.3},style:{fill:'#F52A10',stroke:'#222',lineWidth:.7}});
  return {type:'group',children:kids};}});
grids.push({left:0,top:0,width:1080,height:1429});
xAxes.push({type:'value',gridIndex:8,show:false,min:0,max:1080});
yAxes.push({type:'value',gridIndex:8,show:false,inverse:true,min:0,max:1429});
const network=(nodes,pos,neg)=>({type:'graph',layout:'none',coordinateSystem:'cartesian2d',xAxisIndex:8,yAxisIndex:8,silent:true,roam:false,
  data:nodes.map((n,i)=>({id:'n'+i,name:n[0],value:[n[2],n[3]],symbolSize:n[4],itemStyle:{color:phylumDot[n[1]]},
     label:n[5]?{show:true,position:'inside',offset:[n[0].length*1.45+3,-8],fontFamily:FF,fontSize:8.5,fontWeight:'bold',color:'#F0A01E',formatter:'{b}'}:{show:true,position:'inside',offset:[10,-10],fontFamily:FF,fontSize:5,color:'#00008B',formatter:'{b}'}})),
  links:pos.map((l,i)=>({source:l[0],target:l[1],lineStyle:{color:'#FF1010',width:1.7,opacity:1,curveness:i%2?0.22:-0.22}})).concat((neg||[]).map(l=>({source:l[0],target:l[1],lineStyle:{color:'#1010EE',width:1.7,opacity:1,curveness:0.22}}))),
  emphasis:{disabled:true}});
series.push(network(controlNodes,controlPositive,controlNegative),network(larcNodes,larcPositive));

const g=[];
[['A',26,21],['B',26,515],['C',418,515],['D',24,966],['E',473,966]].forEach(a=>g.push(txt(a[0],a[1],a[2],{s:29,c:'#221a18'})));
g.push(txt('PCoA',73,35,{s:14.5}),txt('P',212,63,{s:15,i:1}),txt('< 0.001',226,63,{s:15}));
g.push(txt('PCo 1 (8.815%)',175,249,{s:16,a:'center'}),txt('PCo 2 (6.885%)',34,131,{s:15.5,a:'center',rot:Math.PI/2}));
g.push(txt('Group',313,104,{s:17}),seg(296,127,316,127,'#EC6A6E',2.4),dot(306,127,2.8,'#EF6F78'),txt('LARC',320,127,{s:15.5}));
g.push(seg(296,144,316,144,'#4E9160',2.4),{type:'polygon',silent:true,shape:{points:[[306,140],[310,147],[302,147]]},style:{fill:'#5B9C6A'}},txt('Control',318,144,{s:15.5}));
g.push(txt('PCoA',80,281,{s:14.5}),txt('P',209,315,{s:15,i:1}),txt('= 0.001',223,315,{s:15}));
g.push(txt('PCo 1 (8.815%)',169,499,{s:16,a:'center'}),txt('PCo 2 (6.885%)',37,383,{s:15.5,a:'center',rot:Math.PI/2}));
g.push(txt('Group',310,337,{s:17}));
g.push(seg(291,363,313,363,'#EC6A6E',2.4),dot(302,363,2.8,'#EF6F78'),txt('LARC type1',321,363,{s:15.5}));
g.push(seg(291,377,313,377,'#F58A4A',2.4),{type:'polygon',silent:true,shape:{points:[[302,373],[306,380],[298,380]]},style:{fill:'#F98C6E'}},txt('LARC type2',321,377,{s:15.5}));
g.push(seg(291,393,313,393,'#4E9160',2.4),rect(299.5,390.5,5,5,'#5B9C6A'),txt('Control',321,392,{s:15.5}));
g.push(rect(449.5,27.5,178,19,'#D9D9D9',{stroke:'#444',lw:1.3}),txt('Dendrogram',542,37.5,{s:13.5,a:'center',c:'#222'}));
g.push(rect(633.5,27.5,178,19,'#D9D9D9',{stroke:'#444',lw:1.3}),txt('Stacked Barplot',723,37,{s:16,a:'center',c:'#333'}));
g.push(rect(623.5,67.5,17.5,258,'#D9D9D9',{stroke:'#444',lw:1.2}),txt('LARC type 1',632,195,{s:14,a:'center',c:'#222',rot:Math.PI/2}));
g.push(rect(623.5,325.5,17.5,153,'#D9D9D9',{stroke:'#444',lw:1.2}),txt('LARC type 2',632,403,{s:14,a:'center',c:'#222',rot:Math.PI/2}));
g.push(seg(855,212,1018,212,'#000',2.2));
g.push(txt('Number of Patients',820,141,{s:15,a:'center',rot:Math.PI/2}),txt('P',863,55,{s:14.5,i:1}),txt('= 0.008',877,55,{s:14.5}),txt('Response',945,37,{s:15.5}));
g.push(rect(946,49,19,20,'#F07274'),rect(946,70,19,19,'#5F9E6E'),txt('NR',970,59,{s:15}),txt('R',970,78,{s:15}));
g.push(txt('Hierarchical Clustering',931,244,{s:16,a:'center',c:'#222'}));
g.push(txt('Family',825,265,{s:17.5}));
familyNames.forEach((n,i)=>{const y=284+i*19.55;g.push(rect(826,y-9.8,18,19.6,familyColors[i]),txt(n,851,y,{s:15.8,c:'#222'}));});
g.push(txt('Phylum',73,526,{s:17.5}));
phylumLegendLeft.forEach((n,i)=>{const y=546+i*13.7;g.push(rect(75,y-6.9,12,13.8,phylumColorsLeft[i]),txt(n,90,y,{s:14,c:'#222'}));});
phylumLegendRight.forEach((n,i)=>{const y=545+i*13.8;g.push(rect(210,y-6.9,12,13.8,phylumColorsRight[i]),txt(n,i===0?225:227,y,{s:14,c:'#222'}));});
g.push(seg(77,868,355,868,'#000',2.2),txt('Percentage (%)',33,755,{s:16,a:'center',rot:Math.PI/2}),txt('Groups',236,908,{s:17,a:'center',c:'#222'}));
g.push(seg(710,526,710,872,'#777',1,[9,7]));
g.push(txt('95% confidence intervals',864,528,{ff:DJ,s:12.8,w:'normal',a:'center',c:'#333'}));
g.push(txt('Mean proportion (%)',571,902,{ff:DJ,s:12,w:'normal',c:'#333'}),txt('Difference in mean proportions (%)',787,902,{ff:DJ,s:12,w:'normal',c:'#333'}));
g.push(txt('q-value (corrected)',1060,700,{ff:DJ,s:12,w:'normal',a:'center',c:'#333',rot:Math.PI/2}));
g.push(rect(409.5,896.5,22,8.5,'#FF2A00',{stroke:'#111',lw:1.4}),txt('LARC',435,901,{s:12.5}),rect(476.5,896.5,22,8.5,'#00A383',{stroke:'#111',lw:1.4}),txt('Control',504,901,{s:12.5}));
g.push(txt('Control microbiota network',240,963,{s:18,a:'center'}),txt('LARC microbiota network',724,960,{s:18,a:'center'}));
g.push(txt('Phylum',922,965,{s:17.5}));
phylumKey.forEach((p,i)=>{const y=988+i*17.3;g.push(dot(927,y,3.7,phylumDot[p[1]]),txt(p[0],939,y,{s:16,w:'normal',c:'#222'}));});
g.push(seg(872,1373,901,1373,'#FF1010',2),txt('positive.correlation',908,1372,{s:15.8,w:'normal',c:'#222'}));
g.push(seg(872,1391,901,1391,'#1010EE',2),txt('negative.correlation',908,1391,{s:15.8,w:'normal',c:'#222'}));

const chart=echarts.init(document.getElementById('c'),null,{renderer:'canvas',width:1080,height:1429});
chart.setOption({animation:false,backgroundColor:'#fff',tooltip:{show:false},grid:grids,xAxis:xAxes,yAxis:yAxes,series,graphic:{elements:g}});
</script></body></html>
